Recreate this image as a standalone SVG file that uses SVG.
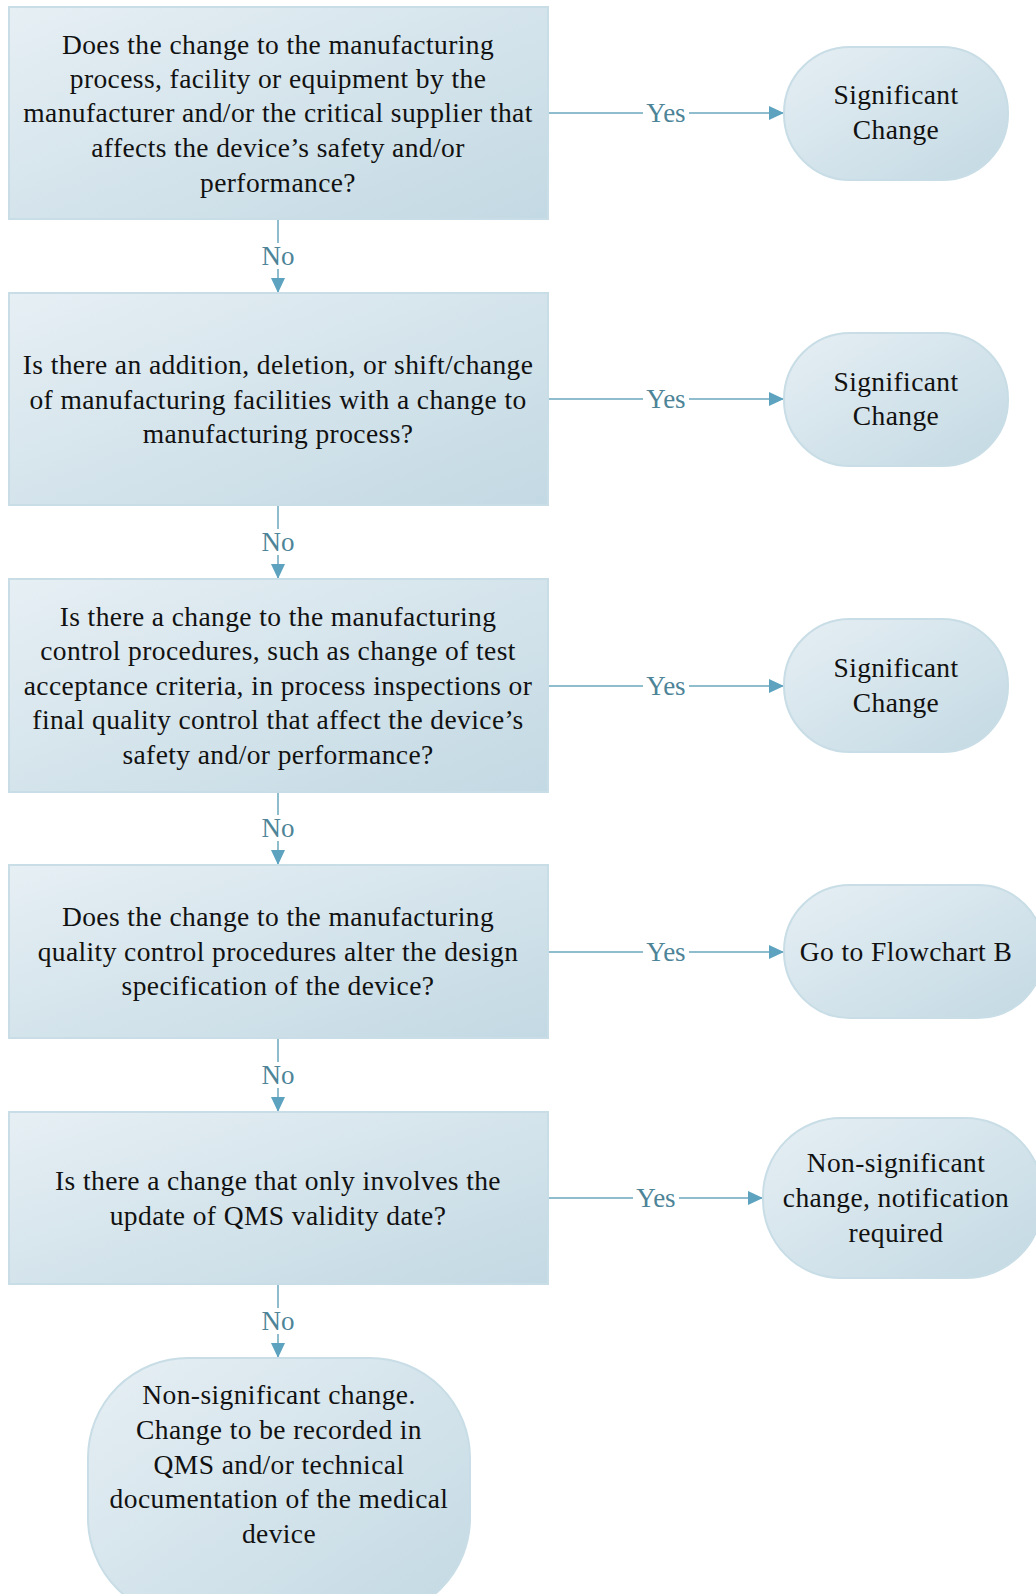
<svg xmlns="http://www.w3.org/2000/svg" width="1036" height="1594" viewBox="0 0 1036 1594">
<defs>
<linearGradient id="g" x1="0" y1="0" x2="1" y2="1">
<stop offset="0" stop-color="#e6eff4"/>
<stop offset="1" stop-color="#c3d9e3"/>
</linearGradient>
<marker id="ah" markerWidth="16" markerHeight="14" refX="15" refY="7" orient="auto" markerUnits="userSpaceOnUse">
<path d="M0,0 L15,7 L0,14 Z" fill="#5da3bf"/>
</marker>
<style>
.box{fill:url(#g);stroke:#c8dde6;stroke-width:2}
.t{font-family:"Liberation Serif","Times New Roman",serif;font-size:27.5px;letter-spacing:0.4px;fill:#111;text-anchor:middle}
.l{font-family:"Liberation Serif","Times New Roman",serif;font-size:27px;fill:#4d8497;text-anchor:middle}
.c{stroke:#6aa7be;stroke-width:1.5;fill:none;marker-end:url(#ah)}
.bg{fill:#fff}
</style>
</defs>
<rect width="1036" height="1594" fill="#fff"/>
<g id="connectors">
<path class="c" d="M278,220 V293"/>
<path class="c" d="M278,506 V579"/>
<path class="c" d="M278,793 V865"/>
<path class="c" d="M278,1039 V1112"/>
<path class="c" d="M278,1285 V1358"/>
<path class="c" d="M549,113 H784"/>
<path class="c" d="M549,399 H784"/>
<path class="c" d="M549,686 H784"/>
<path class="c" d="M549,952 H784"/>
<path class="c" d="M549,1198 H763"/>
<rect class="bg" x="261" y="243" width="34" height="26"/>
<rect class="bg" x="261" y="529" width="34" height="26"/>
<rect class="bg" x="261" y="815" width="34" height="26"/>
<rect class="bg" x="261" y="1062" width="34" height="26"/>
<rect class="bg" x="261" y="1308" width="34" height="26"/>
<rect class="bg" x="643" y="100" width="46" height="26"/>
<rect class="bg" x="643" y="386" width="46" height="26"/>
<rect class="bg" x="643" y="673" width="46" height="26"/>
<rect class="bg" x="643" y="939" width="46" height="26"/>
<rect class="bg" x="633" y="1185" width="46" height="26"/>
<text class="l" x="278" y="265">No</text>
<text class="l" x="278" y="551">No</text>
<text class="l" x="278" y="837">No</text>
<text class="l" x="278" y="1084">No</text>
<text class="l" x="278" y="1330">No</text>
<text class="l" x="666" y="122">Yes</text>
<text class="l" x="666" y="408">Yes</text>
<text class="l" x="666" y="695">Yes</text>
<text class="l" x="666" y="961">Yes</text>
<text class="l" x="656" y="1207">Yes</text>
</g>
<g id="q1">
<rect class="box" x="9" y="7" width="539" height="212"/>
<text class="t" x="278" y="54">Does the change to the manufacturing</text>
<text class="t" x="278" y="88">process, facility or equipment by the</text>
<text class="t" x="278" y="122">manufacturer and/or the critical supplier that</text>
<text class="t" x="278" y="157">affects the device’s safety and/or</text>
<text class="t" x="278" y="192">performance?</text>
</g>
<g id="q2">
<rect class="box" x="9" y="293" width="539" height="212"/>
<text class="t" x="278" y="374">Is there an addition, deletion, or shift/change</text>
<text class="t" x="278" y="409">of manufacturing facilities with a change to</text>
<text class="t" x="278" y="443">manufacturing process?</text>
</g>
<g id="q3">
<rect class="box" x="9" y="579" width="539" height="213"/>
<text class="t" x="278" y="626">Is there a change to the manufacturing</text>
<text class="t" x="278" y="660">control procedures, such as change of test</text>
<text class="t" x="278" y="695">acceptance criteria, in process inspections or</text>
<text class="t" x="278" y="729">final quality control that affect the device’s</text>
<text class="t" x="278" y="764">safety and/or performance?</text>
</g>
<g id="q4">
<rect class="box" x="9" y="865" width="539" height="173"/>
<text class="t" x="278" y="926">Does the change to the manufacturing</text>
<text class="t" x="278" y="961">quality control procedures alter the design</text>
<text class="t" x="278" y="995">specification of the device?</text>
</g>
<g id="q5">
<rect class="box" x="9" y="1112" width="539" height="172"/>
<text class="t" x="278" y="1190">Is there a change that only involves the</text>
<text class="t" x="278" y="1225">update of QMS validity date?</text>
</g>
<g id="t1">
<rect class="box" x="784" y="47" width="224" height="133" rx="66"/>
<text class="t" x="896" y="104">Significant</text>
<text class="t" x="896" y="139">Change</text>
</g>
<g id="t2">
<rect class="box" x="784" y="333" width="224" height="133" rx="66"/>
<text class="t" x="896" y="391">Significant</text>
<text class="t" x="896" y="425">Change</text>
</g>
<g id="t3">
<rect class="box" x="784" y="619" width="224" height="133" rx="66"/>
<text class="t" x="896" y="677">Significant</text>
<text class="t" x="896" y="712">Change</text>
</g>
<g id="t4">
<rect class="box" x="784" y="885" width="260" height="133" rx="66"/>
<text class="t" x="906" y="961">Go to Flowchart B</text>
</g>
<g id="t5">
<rect class="box" x="763" y="1118" width="280" height="160" rx="78"/>
<text class="t" x="896" y="1172">Non-significant</text>
<text class="t" x="896" y="1207">change, notification</text>
<text class="t" x="896" y="1242">required</text>
</g>
<g id="end">
<rect class="box" x="88" y="1358" width="382" height="260" rx="100"/>
<text class="t" x="279" y="1404">Non-significant change.</text>
<text class="t" x="279" y="1439">Change to be recorded in</text>
<text class="t" x="279" y="1474">QMS and/or technical</text>
<text class="t" x="279" y="1508">documentation of the medical</text>
<text class="t" x="279" y="1543">device</text>
</g>
</svg>
